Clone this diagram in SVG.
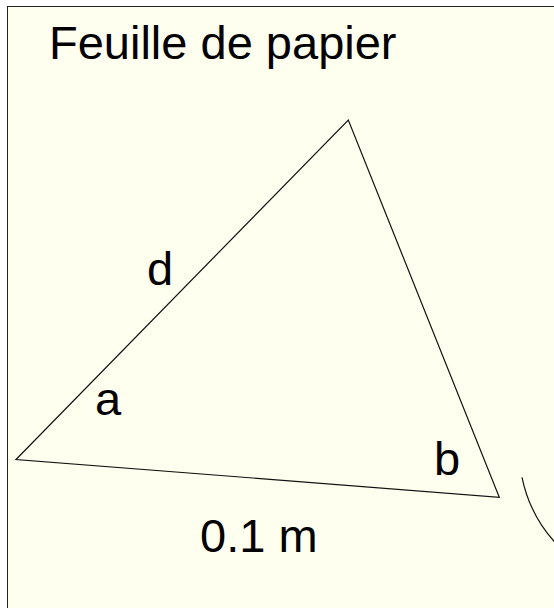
<svg xmlns="http://www.w3.org/2000/svg" width="554" height="608" viewBox="0 0 554 608">
  <style>
    .ln { fill: none; stroke: #111; stroke-width: 1.2; }
    .lbl { font-family: "Liberation Sans", Arial, sans-serif; font-size: 47px; fill: #000; }
  </style>
  <rect width="554" height="608" fill="#ffffff"/>
  <g id="paper">
    <rect x="7.5" y="6.5" width="620" height="660" fill="#fffff0" stroke="#222" stroke-width="1"/>
    <text class="lbl" x="49" y="59">Feuille de papier</text>
  </g>
  <g id="connectors">
    <polygon class="ln" points="16,459.5 348.3,120 499.3,497.3"/>
    <path class="ln" d="M522,477.3 A139,139 0 0 0 560,547.6"/>
  </g>
  <g id="label-d"><text class="lbl" x="147" y="285">d</text></g>
  <g id="label-a"><text class="lbl" x="95" y="415">a</text></g>
  <g id="label-b"><text class="lbl" x="434" y="475">b</text></g>
  <g id="label-dist"><text class="lbl" x="200" y="551.5">0.1 m</text></g>
</svg>
